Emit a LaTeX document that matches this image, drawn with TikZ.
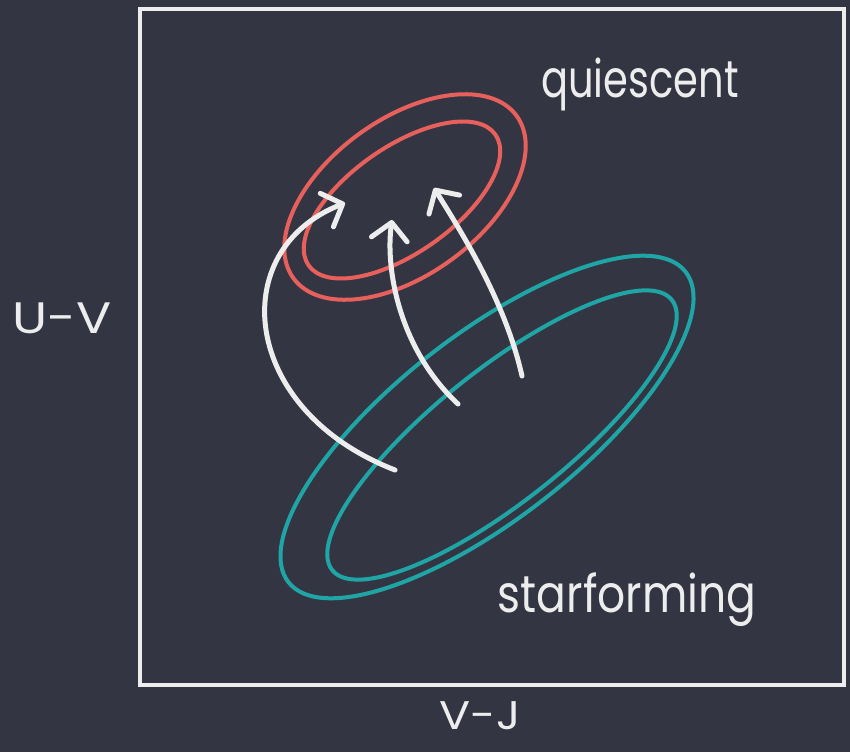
\documentclass[tikz,border=0pt]{standalone}
\usepackage{fontspec}
\newfontfamily\hand{Poppins}
\usetikzlibrary{arrows.meta}
\definecolor{bg}{HTML}{333642}
\definecolor{ink}{HTML}{EDEDED}
\definecolor{qred}{HTML}{E8605C}
\definecolor{steal}{HTML}{1FA5A5}
\tikzset{
  frame/.style={draw=ink, line width=4pt},
  qring/.style={draw=qred, line width=4pt},
  sring/.style={draw=steal, line width=4pt},
  flow/.style={draw=ink, line width=5pt, line cap=round, line join=round,
    -{Straight Barb[length=17pt,width=36pt,line cap=round,line join=round]}},
  lab/.style={text=ink, inner sep=0pt},
  big/.style={font=\hand\fontsize{40}{44}\selectfont}
}
\begin{document}
\begin{tikzpicture}[x=1pt,y=-1pt]
\fill[bg] (0,0) rectangle (850,752);
\useasboundingbox (0,0) rectangle (850,752);
\node[frame, minimum width=704pt, minimum height=676pt, inner sep=0pt] (box) at (492,347) {};
% quiescent region
\draw[qring, rotate around={36:(405,197)}] (405,197) ellipse [x radius=138, y radius=78];
\draw[qring, rotate around={35:(402,200)}] (402,200) ellipse [x radius=114, y radius=53];
% star-forming region
\draw[sring, rotate around={38:(487,427)}] (487,427) ellipse [x radius=252, y radius=92];
\draw[sring, rotate around={38.5:(502,435)}] (502,435) ellipse [x radius=217, y radius=66];
% arrows
\coordinate (a1s) at (395,470); \coordinate (a1e) at (345,203);
\coordinate (a2s) at (458,404); \coordinate (a2e) at (392,220);
\coordinate (a3s) at (522,376); \coordinate (a3e) at (434,188);
\draw[flow] (a1s) .. controls (240,410) and (225,250) .. (a1e);
\draw[flow] (a2s) .. controls (400,350) and (385,270) .. (a2e);
\draw[flow] (a3s) .. controls (505,300) and (460,230) .. (a3e);
% labels
\node[lab, big] (q) at (640,84) {\scalebox{1}[1.3]{quiescent}};
\node[lab, big] (s) at (627,600) {\scalebox{1.1}[1.3]{starforming}};
\node[lab, big] (uv) at (62,318) {\scalebox{1.3}[1.1]{U-V}};
\node[lab, big] (vj) at (480,716) {\scalebox{1.15}[1]{V-J}};
\end{tikzpicture}
\end{document}
